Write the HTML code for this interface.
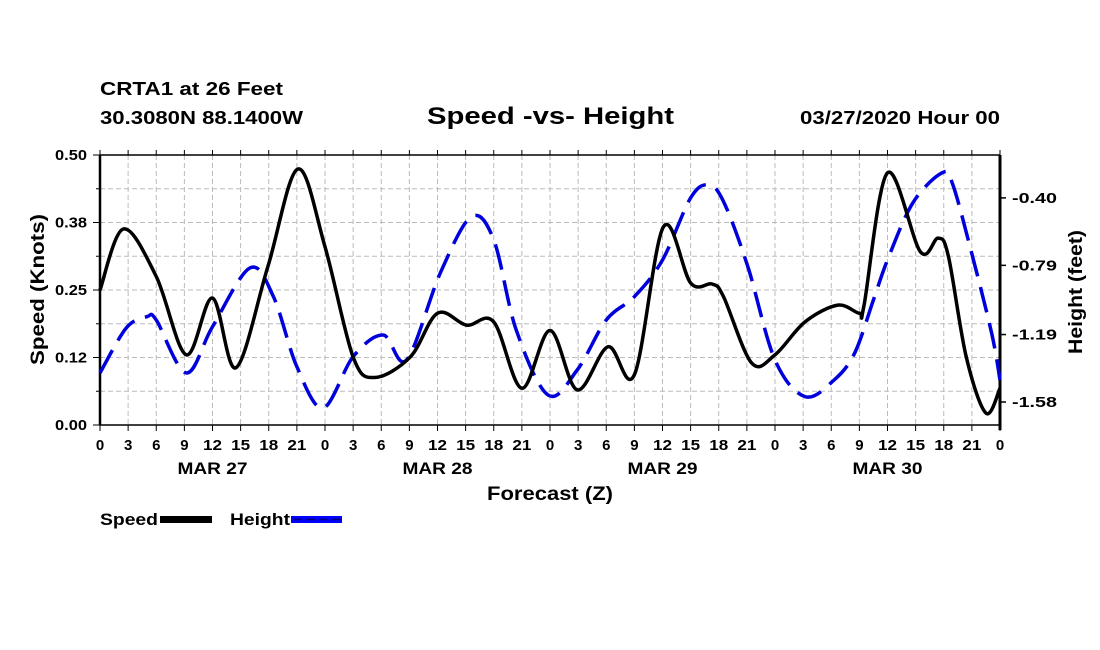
<!DOCTYPE html>
<html><head><meta charset="utf-8"><style>
html,body{margin:0;padding:0;background:#fff;}
svg{display:block;font-family:"Liberation Sans",Arial,sans-serif;}
</style></head><body>
<svg id="chart" width="1100" height="650" viewBox="0 0 1100 650">
<text x="100" y="95" font-size="18" font-weight="bold" textLength="183" lengthAdjust="spacingAndGlyphs">CRTA1 at 26 Feet</text>
<text x="100" y="124" font-size="18" font-weight="bold" textLength="203" lengthAdjust="spacingAndGlyphs">30.3080N 88.1400W</text>
<text x="427" y="124" font-size="24" font-weight="bold" textLength="247" lengthAdjust="spacingAndGlyphs">Speed -vs- Height</text>
<text x="800" y="124" font-size="18" font-weight="bold" textLength="200" lengthAdjust="spacingAndGlyphs">03/27/2020 Hour 00</text>
<g id="grid"></g>
<g id="axes"></g>
<g id="series"></g>
<text x="487" y="500" font-size="19" font-weight="bold" textLength="126" lengthAdjust="spacingAndGlyphs">Forecast (Z)</text>
<text transform="translate(44,365) rotate(-90)" font-size="19" font-weight="bold" textLength="151" lengthAdjust="spacingAndGlyphs">Speed (Knots)</text>
<text transform="translate(1082,354) rotate(-90)" font-size="19" font-weight="bold" textLength="124" lengthAdjust="spacingAndGlyphs">Height (feet)</text>
<g>
<text x="100" y="525" font-size="17" font-weight="bold" textLength="58" lengthAdjust="spacingAndGlyphs">Speed</text>
<rect x="160" y="516" width="52" height="7" fill="#000"/>
<text x="230" y="525" font-size="17" font-weight="bold" textLength="60" lengthAdjust="spacingAndGlyphs">Height</text>
<rect x="291" y="516" width="51" height="7" fill="#0000ff"/>
<line x1="293" y1="519.5" x2="342" y2="519.5" stroke="#000080" stroke-width="1.5" stroke-dasharray="9,4"/>
</g>
</svg>
<script>
const speedHours=[0,2.5,6,9.2,12,14.5,17.9,21.1,24,27,29.3,33.1,36,39.1,42,45,48,50.9,54.2,57,60.1,63,65.3,66.5,69.5,72,75.2,78.7,81,81.5,84,87.5,89.4,90.5,92.4,94.5,96];
const speedValues=[0.25,0.363,0.275,0.13,0.235,0.106,0.293,0.474,0.33,0.126,0.088,0.126,0.207,0.185,0.191,0.068,0.175,0.065,0.145,0.093,0.367,0.263,0.261,0.238,0.115,0.13,0.191,0.222,0.207,0.222,0.467,0.321,0.346,0.312,0.126,0.022,0.068];
const heightHours=[0,2.8,5,6,9.2,12,16,18.5,21,23.8,27,30.2,32.7,36.3,39.6,42,44.4,47.8,50.9,54,57,60,63,64.9,66.5,69.1,72,75.2,78.3,80.5,82.5,84,86.7,89.8,90.9,92.8,95.1,96];
const heightValues=[-1.412,-1.152,-1.087,-1.106,-1.412,-1.145,-0.805,-0.971,-1.376,-1.615,-1.318,-1.193,-1.337,-0.834,-0.51,-0.643,-1.164,-1.54,-1.395,-1.106,-0.971,-0.759,-0.40,-0.325,-0.42,-0.797,-1.337,-1.549,-1.453,-1.297,-0.99,-0.759,-0.429,-0.256,-0.313,-0.682,-1.18,-1.453];
const hourTickLabels=["0","3","6","9","12","15","18","21"];
const dayLabels=["MAR 27","MAR 28","MAR 29","MAR 30"];
const speedTicks=[0,0.125,0.25,0.375,0.5];
const speedTickLabels=["0.00","0.12","0.25","0.38","0.50"];
const heightTicks=[-0.40,-0.79,-1.19,-1.58];
const heightTickLabels=["-0.40","-0.79","-1.19","-1.58"];

const L=100,R=1000,T=155,B=425;
const X=h=>L+(R-L)*h/96;
const YS=v=>B-(B-T)*v/0.5;
const HMIN=-1.713,HMAX=-0.152;
const YH=v=>B-(B-T)*(v-HMIN)/(HMAX-HMIN);
const NS="http://www.w3.org/2000/svg";
function mk(tag,attrs,parent){const e=document.createElementNS(NS,tag);for(const k in attrs)e.setAttribute(k,attrs[k]);parent.appendChild(e);return e;}
const grid=document.getElementById('grid'),axes=document.getElementById('axes'),series=document.getElementById('series');
for(let i=1;i<32;i++){const x=X(i*3);
 const g=mk('line',{x1:x,y1:T,x2:x,y2:B,stroke:'#bbb','stroke-width':1,'stroke-dasharray':'5,3'},grid);
 }
for(let i=1;i<8;i++){const y=YS(i*0.0625);
 const g=mk('line',{x1:L,y1:y,x2:R,y2:y,stroke:'#bbb','stroke-width':1,'stroke-dasharray':'5,3'},grid);
 }
mk('line',{x1:L,y1:T,x2:R,y2:T,stroke:'#000','stroke-width':1.5},axes);
mk('line',{x1:L,y1:B,x2:R,y2:B,stroke:'#000','stroke-width':1.5},axes);
mk('line',{x1:L,y1:T,x2:L,y2:B,stroke:'#000','stroke-width':2.5},axes);
mk('line',{x1:R,y1:T,x2:R,y2:B+5,stroke:'#000','stroke-width':3},axes);
for(let i=0;i<=32;i++){const x=X(i*3);
 const t1=mk('line',{x1:x,y1:T,x2:x,y2:T-5,stroke:'#000','stroke-width':1},axes);
 
 const t2=mk('line',{x1:x,y1:B,x2:x,y2:B+6,stroke:'#000','stroke-width':1},axes);
 
 const lab=hourTickLabels[i%8];
 const tx=mk('text',{x:x,y:450,'font-size':15,'font-weight':'bold','text-anchor':'middle'},axes);
 if(lab.length==2){tx.setAttribute('textLength',19);tx.setAttribute('lengthAdjust','spacingAndGlyphs');}
 tx.textContent=lab;
 }
dayLabels.forEach((d,i)=>{const t=mk('text',{x:X(i*24+12)-35,y:474,'font-size':17,'font-weight':'bold',textLength:70,lengthAdjust:'spacingAndGlyphs'},axes);
 t.textContent=d;});
for(let i=0;i<=8;i++){const y=YS(i*0.0625);
 const t=mk('line',{x1:L-(i%2?4:7),y1:y,x2:L,y2:y,stroke:'#000','stroke-width':1},axes);
 }
speedTicks.forEach((v,i)=>{const t=mk('text',{x:55,y:YS(v)+5,'font-size':15,'font-weight':'bold',textLength:32,lengthAdjust:'spacingAndGlyphs'},axes);
 t.textContent=speedTickLabels[i];});
heightTicks.forEach((v,i)=>{const y=YH(v);
 const k=mk('line',{x1:R,y1:y,x2:R+6,y2:y,stroke:'#000','stroke-width':1.5},axes);
 
 const t=mk('text',{x:1012,y:y+5,'font-size':15,'font-weight':'bold',textLength:45,lengthAdjust:'spacingAndGlyphs'},axes);
 t.textContent=heightTickLabels[i];});
function smooth(pts){let d='M'+pts[0][0]+','+pts[0][1];
 for(let i=0;i<pts.length-1;i++){const p0=pts[Math.max(0,i-1)],p1=pts[i],p2=pts[i+1],p3=pts[Math.min(pts.length-1,i+2)];
  const c1=[p1[0]+(p2[0]-p0[0])/6,p1[1]+(p2[1]-p0[1])/6],c2=[p2[0]-(p3[0]-p1[0])/6,p2[1]-(p3[1]-p1[1])/6];
  d+=' C'+c1[0]+','+c1[1]+' '+c2[0]+','+c2[1]+' '+p2[0]+','+p2[1];}
 return d;}
const hp=mk('path',{d:smooth(heightHours.map((h,i)=>[X(h),YH(heightValues[i])])),fill:'none',stroke:'#0000dd','stroke-width':3.5,'stroke-dasharray':'26,11'},series);

const sp=mk('path',{d:smooth(speedHours.map((h,i)=>[X(h),YS(speedValues[i])])),fill:'none',stroke:'#000','stroke-width':3.5,'stroke-linejoin':'round'},series);

</script>
</body></html>
